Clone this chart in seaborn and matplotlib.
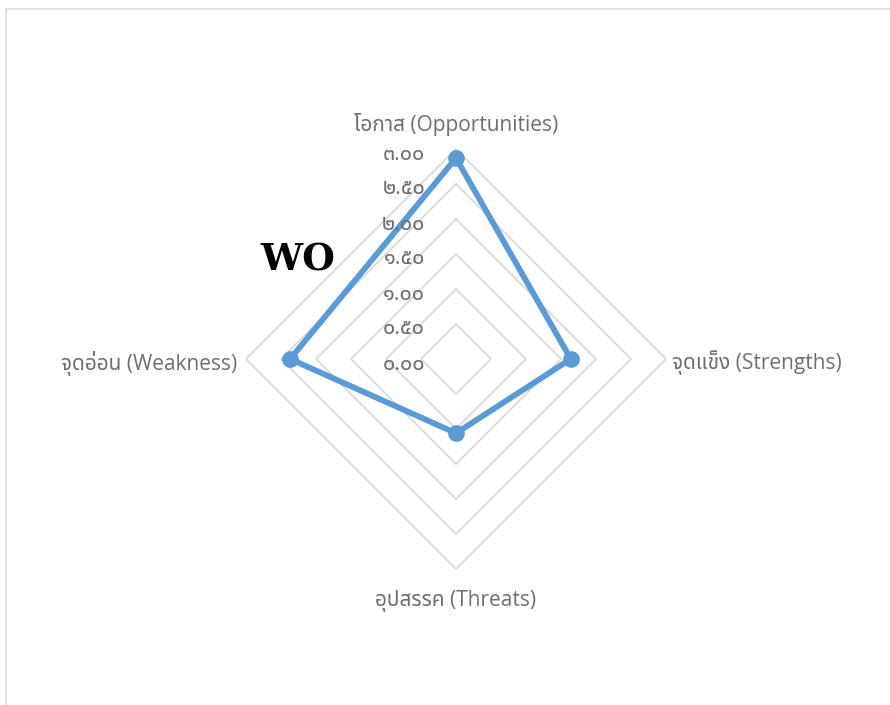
import numpy as np
import matplotlib
matplotlib.use("Agg")
import matplotlib.pyplot as plt
from matplotlib.patches import Rectangle
import matplotlib.transforms as mtransforms
import seaborn as sns

# data
categories = ["โอกาส (Opportunities)", "จุดแข็ง (Strengths)",
              "อุปสรรค (Threats)", "จุดอ่อน (Weakness)"]
values = [2.87, 1.64, 1.06, 2.37]
ring_levels = [0.5, 1.0, 1.5, 2.0, 2.5, 3.0]
tick_values = [0.0, 0.5, 1.0, 1.5, 2.0, 2.5, 3.0]
tick_labels = ["๐.๐๐", "๐.๕๐", "๑.๐๐", "๑.๕๐", "๒.๐๐", "๒.๕๐", "๓.๐๐"]
quadrant_label = "WO"

sns.set_theme(style="white")
plt.rcParams['font.family'] = ['Open Sans', 'Noto Sans Thai', 'DejaVu Sans']

LINE = "#5B9BD5"
GRID = "#D9D9D9"
TXT = "#6E6E6E"

fig = plt.figure(figsize=(8.9, 7.05), dpi=100)
# chart area border (light gray frame)
fig.patches.append(Rectangle((6/890, -0.1), 2.0, (705-9)/705 + 0.1,
                             transform=fig.transFigure, fill=False,
                             edgecolor="#D9D9D9", linewidth=1.2))

ax = fig.add_axes([246/890, (705-359-210)/705, 420/890, 420/705], projection="polar")
ax.set_theta_offset(np.pi/2)
ax.set_theta_direction(-1)
ax.set_ylim(0, 3.0)
ax.grid(False)
ax.spines["polar"].set_visible(False)
ax.set_xticks([])
ax.set_yticks([])
ax.patch.set_alpha(0)

n = len(categories)
angles = [i*2*np.pi/n for i in range(n)]
closed = angles + angles[:1]

# diamond grid rings
for r in ring_levels:
    ax.plot(closed, [r]*(n+1), color=GRID, lw=1.3, zorder=1)

# data series
vals = values + values[:1]
ax.plot(closed, vals, color=LINE, lw=4.2, zorder=3, solid_joinstyle="miter")
ax.plot(angles, values, "o", color=LINE, ms=11, zorder=4)

# radial tick labels, left of the vertical axis
off = mtransforms.offset_copy(ax.transData, fig=fig, x=-31, y=-5, units="dots")
for v, lab in zip(tick_values, tick_labels):
    ax.text(0, v, lab, transform=off, ha="right", va="center",
            fontsize=15.5, color=TXT)

# category labels
cat_pos = [(456, 125, "center"), (672, 363, "left"),
           (456, 601, "center"), (237, 363, "right")]
for lab, (x, y, ha) in zip(categories, cat_pos):
    fig.text(x/890, 1 - y/705, lab, ha=ha, va="center", fontsize=15, color=TXT)

fig.text(298/890, 1 - 260/705, quadrant_label, ha="center", va="center",
         fontsize=27, fontweight="bold", family="DejaVu Serif", color="black")

fig.savefig("out.png", dpi=100)
